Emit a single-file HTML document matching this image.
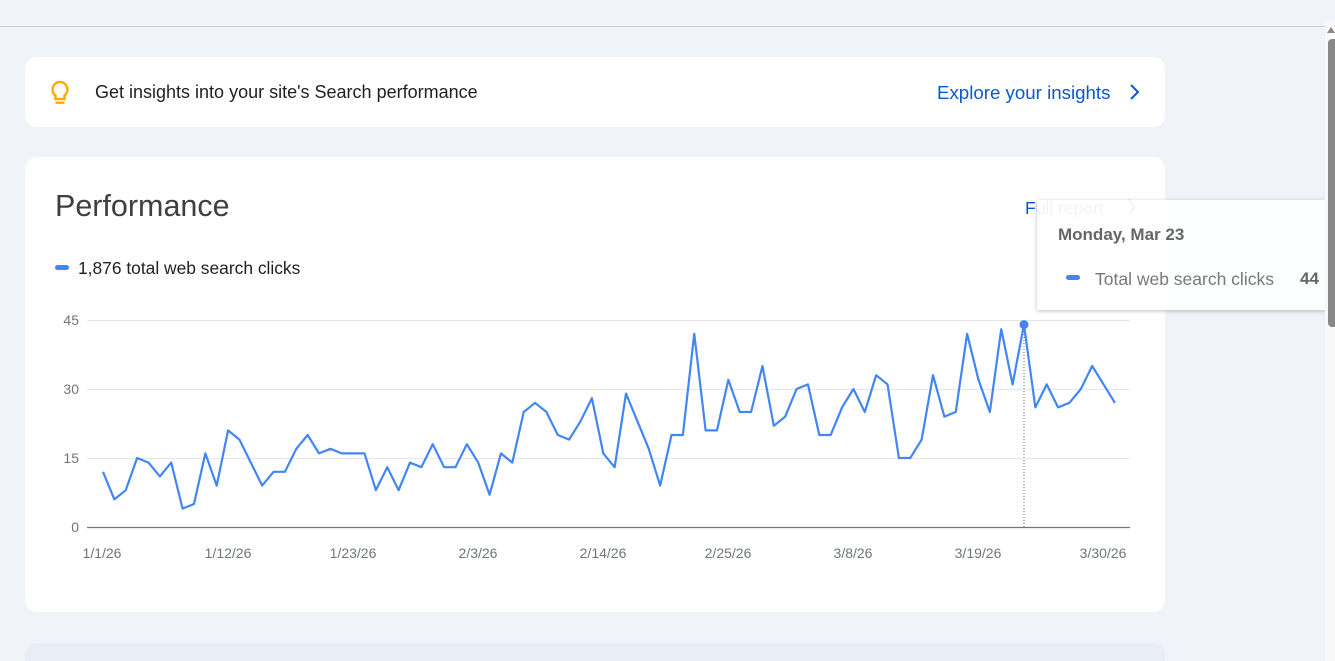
<!DOCTYPE html>
<html><head><meta charset="utf-8"><style>
html,body{margin:0;width:1335px;height:661px;overflow:hidden}
body{background:#f0f3f8;font-family:"Liberation Sans",Arial,sans-serif;position:relative}
.top{position:absolute;left:0;top:0;width:1335px;height:26px;border-bottom:1px solid #c9ccd1;background:#f0f3f8}
.card{position:absolute;background:#fff;border-radius:12px}
.t{position:absolute;white-space:nowrap}
</style></head><body>
<div class="top"></div>
<div class="card" style="left:25px;top:57px;width:1140px;height:70px"></div>
<svg style="position:absolute;left:48px;top:79px" width="24" height="28" viewBox="0 0 24 28"><path d="M12 3a7.5 7.5 0 0 0-4.5 13.5V20h9v-3.5A7.5 7.5 0 0 0 12 3z" fill="none" stroke="#f9ab00" stroke-width="2.4"/><rect x="7.5" y="22.5" width="9" height="2.4" fill="#f9ab00"/></svg>
<div class="t" style="left:95px;top:82px;font-size:18px;color:#1f1f1f">Get insights into your site's Search performance</div>
<div class="t" style="left:937px;top:82px;font-size:18.7px;color:#0b57d0">Explore your insights</div>
<svg style="position:absolute;left:1128px;top:83px" width="14" height="18"><path d="M3 2l7 7-7 7" fill="none" stroke="#0b57d0" stroke-width="2"/></svg>
<div class="card" style="left:25px;top:157px;width:1140px;height:455px"></div>
<div class="card" style="left:25px;top:643px;width:1140px;height:18px;border-radius:12px 12px 0 0;background:#e9edf6"></div>
<div class="t" style="left:55px;top:189px;font-size:30.5px;color:#3c4043">Performance</div>
<div class="t" style="left:1025px;top:198px;font-size:17.5px;color:#0b57d0">Full report</div>
<div style="position:absolute;left:55px;top:265px;width:14px;height:5px;border-radius:3px;background:#4285f4"></div>
<div class="t" style="left:78px;top:258px;font-size:17.4px;color:#1f1f1f">1,876 total web search clicks</div>
<svg style="position:absolute;left:0;top:0" width="1335" height="661" font-family="Liberation Sans,Arial,sans-serif" font-size="14" fill="#70757a">
<g stroke="#e6e6e6" stroke-width="1"><line x1="87" y1="320.5" x2="1130" y2="320.5"/><line x1="87" y1="389.5" x2="1130" y2="389.5"/><line x1="87" y1="458.5" x2="1130" y2="458.5"/></g>
<line x1="87" y1="527.5" x2="1130" y2="527.5" stroke="#777" stroke-width="1.2"/>
<g text-anchor="end"><text x="79" y="325">45</text><text x="79" y="394">30</text><text x="79" y="463">15</text><text x="79" y="532">0</text></g>
<g text-anchor="middle"><text x="102" y="558">1/1/26</text><text x="228" y="558">1/12/26</text><text x="353" y="558">1/23/26</text><text x="478" y="558">2/3/26</text><text x="603" y="558">2/14/26</text><text x="728" y="558">2/25/26</text><text x="853" y="558">3/8/26</text><text x="978" y="558">3/19/26</text><text x="1103" y="558">3/30/26</text></g>
<line x1="1024" y1="325" x2="1024" y2="527" stroke="#666" stroke-dasharray="1,2"/>
<polyline transform="translate(103,527) scale(11.37,-4.6)" vector-effect="non-scaling-stroke" fill="none" stroke="#4285f4" stroke-width="2.2" stroke-linejoin="round" points="0,12 1,6 2,8 3,15 4,14 5,11 6,14 7,4 8,5 9,16 10,9 11,21 12,19 13,14 14,9 15,12 16,12 17,17 18,20 19,16 20,17 21,16 22,16 23,16 24,8 25,13 26,8 27,14 28,13 29,18 30,13 31,13 32,18 33,14 34,7 35,16 36,14 37,25 38,27 39,25 40,20 41,19 42,23 43,28 44,16 45,13 46,29 47,23 48,17 49,9 50,20 51,20 52,42 53,21 54,21 55,32 56,25 57,25 58,35 59,22 60,24 61,30 62,31 63,20 64,20 65,26 66,30 67,25 68,33 69,31 70,15 71,15 72,19 73,33 74,24 75,25 76,42 77,32 78,25 79,43 80,31 81,44 82,26 83,31 84,26 85,27 86,30 87,35 88,31 89,27"/>
<circle cx="1024" cy="324.6" r="4.5" fill="#4285f4"/>
<path d="M1129 200l6 7-6 7" fill="none" stroke="#0b57d0" stroke-width="1.6"/>
</svg>
<div style="position:absolute;left:1037px;top:200px;width:290px;height:110px;background:rgba(255,255,255,0.93);box-shadow:0 1px 4px rgba(0,0,0,0.25)"></div>
<div class="t" style="left:1058px;top:225px;font-size:17px;font-weight:bold;color:#666">Monday, Mar 23</div>
<div style="position:absolute;left:1066px;top:275px;width:14px;height:5px;border-radius:3px;background:#4285f4"></div>
<div class="t" style="left:1095px;top:269px;font-size:17.5px;color:#777">Total web search clicks</div>
<div class="t" style="left:1300px;top:269px;font-size:17px;font-weight:bold;color:#666">44</div>
<div style="position:absolute;left:1325px;top:21px;width:10px;height:640px;background:#f8f8f8"></div>
<svg style="position:absolute;left:1326px;top:26px" width="9" height="8"><path d="M5 1L9 7H1z" fill="#888"/></svg>
<div style="position:absolute;left:1328px;top:39px;width:7px;height:288px;border-radius:4px 0 0 4px;background:#888"></div>
</body></html>
